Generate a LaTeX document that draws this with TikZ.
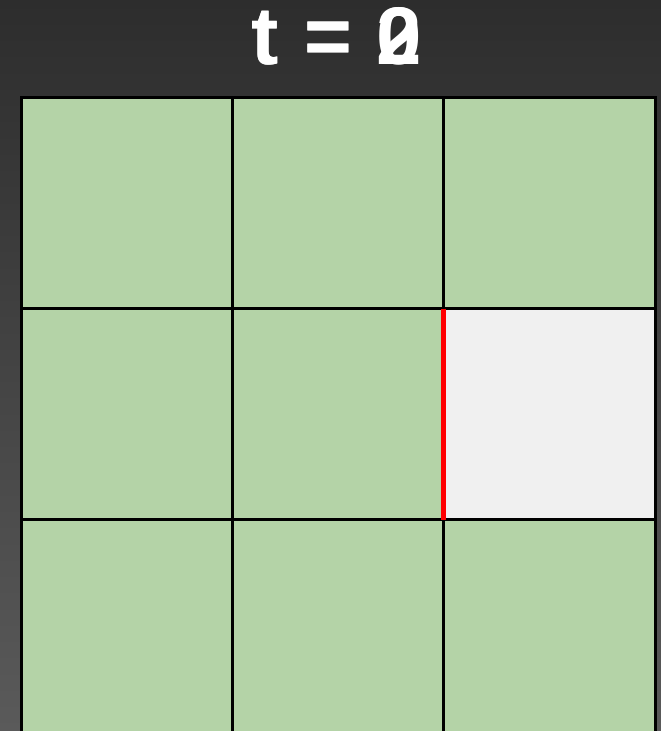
\documentclass[tikz,border=0pt]{standalone}
\usepackage{fontspec}
\newfontfamily\titlefont{Liberation Sans}
\definecolor{bgtop}{HTML}{2D2D2D}
\definecolor{bgbot}{HTML}{5A5A5A}
\definecolor{checkgreen}{HTML}{B4D3A7}
\definecolor{emptycell}{HTML}{F0F0F0}
\newcommand\gapsp{\hspace{25bp}}
\tikzset{
  cellpat/.style={fill=checkgreen},
  gridline/.style={draw=black, line width=3bp},
  wall/.style={draw=red, line width=5bp},
  title/.style={text=white, font=\titlefont\bfseries\fontsize{82}{82}\selectfont, inner sep=0pt}
}
\begin{document}
\begin{tikzpicture}[x=1bp,y=-1bp]
\useasboundingbox (0,0) rectangle (661,731);
\shade[top color=bgtop, bottom color=bgbot] (0,0) rectangle (661,731);
% cells
\fill[cellpat] (21,98) rectangle (656,740);
\fill[emptycell] (443.5,308.5) rectangle (655.5,519.5);
% grid
\foreach \x in {21.5,232.5,443.5,655.5} \draw[gridline] (\x,97) -- (\x,745);
\foreach \y in {98,308.5,519.5} \draw[gridline] (20,\y) -- (657,\y);
\draw[wall] (443.5,308.5) -- (443.5,519.5);
% title
\node[title, anchor=base] (t0) at (337,65) {t\gapsp=\gapsp0};
\node[title, anchor=base] (t2) at (337,65) {t\gapsp=\gapsp2};
\end{tikzpicture}
\end{document}
